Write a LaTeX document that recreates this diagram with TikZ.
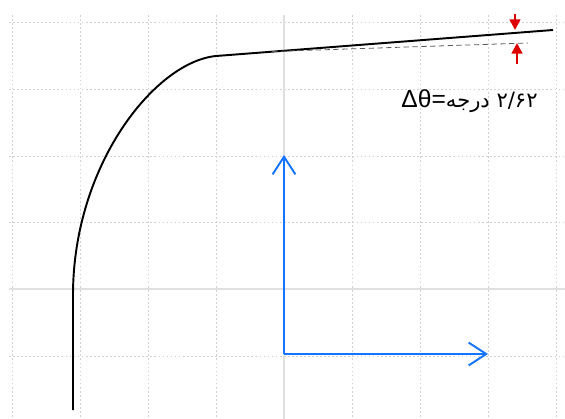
\documentclass[tikz,border=0pt]{standalone}
\usepackage{fontspec}
\setmainfont{Liberation Sans}
\newfontfamily\arabicfont[Script=Arabic]{DejaVu Sans}
\TeXXeTstate=1
\usepackage{tikz}
\usetikzlibrary{arrows.meta, positioning, calc}
\definecolor{axisblue}{RGB}{20, 115, 255}
\definecolor{markred}{RGB}{220, 0, 0}

\begin{document}
\begin{tikzpicture}[
    x=0.02cm, y=-0.02cm,
    gridline/.style={draw=black!18, line width=0.55pt, dash pattern=on 1pt off 1.3pt},
    axisline/.style={draw=black!12, line width=0.9pt},
    curve/.style={draw=black, line width=1.1pt},
    tangent/.style={draw=black!65, line width=0.45pt, densely dashed},
    axisarrow/.style={draw=axisblue, line width=1.1pt, -{Straight Barb[length=10pt, width=13pt, line width=1.1pt]}},
    marker/.style={draw=markred, line width=1.3pt, -{Triangle[length=6pt, width=6pt]}},
    label/.style={font=\fontsize{14}{17}\selectfont, inner sep=0pt}
]
    \useasboundingbox (0,0) rectangle (565,419);

    % background grid
    \draw[gridline] (12,15) -- (12,419);
    \draw[gridline] (80,15) -- (80,419);
    \draw[gridline] (148,15) -- (148,419);
    \draw[gridline] (216,15) -- (216,419);
    \draw[gridline] (352,15) -- (352,419);
    \draw[gridline] (420,15) -- (420,419);
    \draw[gridline] (488,15) -- (488,419);
    \draw[gridline] (556,15) -- (556,419);
    \draw[gridline] (9,22) -- (565,22);
    \draw[gridline] (9,89) -- (565,89);
    \draw[gridline] (9,156) -- (565,156);
    \draw[gridline] (9,222) -- (565,222);
    \draw[gridline] (9,356) -- (565,356);
    \draw[axisline] (284,15) -- (284,419);
    \draw[axisline] (9,289) -- (565,289);

    % load curve
    \coordinate (start) at (73,410);
    \coordinate (yield) at (73,295);
    \coordinate (knee) at (216,56);
    \coordinate (split) at (272,51.5);
    \coordinate (tipend) at (553,30);
    \coordinate (tanend) at (528,43);
    \draw[curve] (start) -- (yield) .. controls (73,165) and (155,62) .. (knee) -- (tipend);
    \draw[tangent] (split) -- (tanend);

    % offset markers
    \coordinate (topmark) at (515,14);
    \coordinate (topline) at (515,30);
    \coordinate (lowmark) at (517,64);
    \coordinate (lowline) at (517,43);
    \draw[marker] (topmark) -- (topline);
    \draw[marker] (lowmark) -- (lowline);

    \node[label, anchor=east] (delta) at (538,101) {Δθ=\arabicfont\fontsize{12}{14}\selectfont\beginR\beginL ۲/۶۲\endL{} درجه\endR};

    % axes
    \coordinate (origin) at (284,354);
    \coordinate (yaxis) at (284,155);
    \coordinate (xaxis) at (488,354);
    \draw[axisarrow] (origin) -- (yaxis);
    \draw[axisarrow] (origin) -- (xaxis);

\end{tikzpicture}
\end{document}
